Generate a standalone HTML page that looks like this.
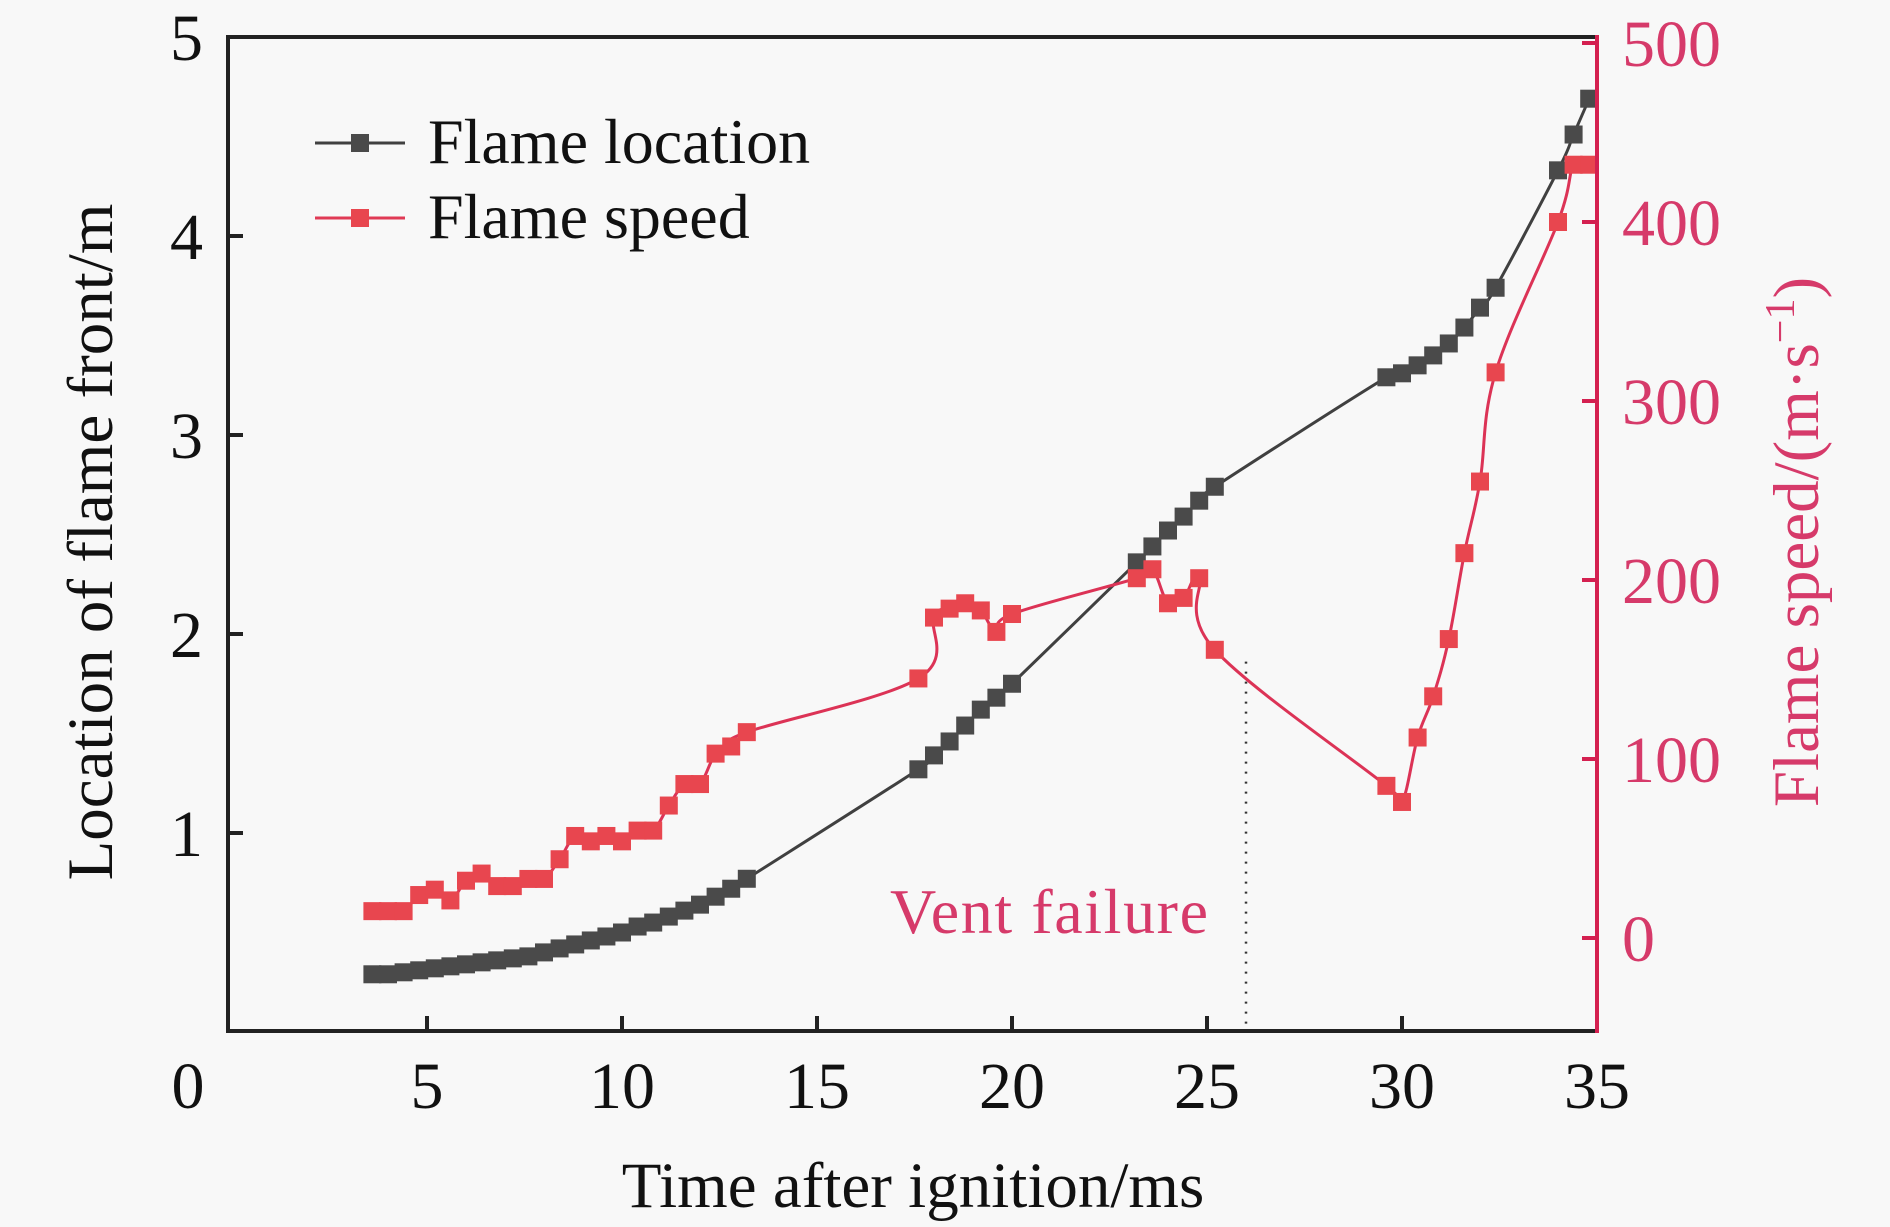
<!DOCTYPE html>
<html><head><meta charset="utf-8"><style>
html,body{margin:0;padding:0;background:#f8f8f8;}
svg{display:block;font-family:"Liberation Serif","DejaVu Serif",serif;}
</style></head><body>
<svg id="chart" width="1890" height="1227" viewBox="0 0 1890 1227">
<rect x="0" y="0" width="1890" height="1227" fill="#f8f8f8"/>
<g id="marks"></g>
<g id="axes"></g>
<g>
 <line x1="315" y1="143" x2="405" y2="143" stroke="#404040" stroke-width="3"/>
 <rect x="351" y="134" width="18" height="18" fill="#4a4a4a"/>
 <text x="428" y="163" font-size="64" fill="#111">Flame location</text>
 <line x1="315" y1="218" x2="405" y2="218" stroke="#e03a55" stroke-width="3"/>
 <rect x="351" y="209" width="18" height="18" fill="#e8464f"/>
 <text x="428" y="238" font-size="64" fill="#111">Flame speed</text>
</g>
<text x="890" y="933" font-size="64" fill="#d63a6a" textLength="318">Vent failure</text>
<text x="913" y="1207" font-size="65" fill="#111" text-anchor="middle">Time after ignition/ms</text>
<text transform="translate(112,542) rotate(-90)" font-size="65" fill="#111" text-anchor="middle">Location of flame front/m</text>
<text transform="translate(1818,542) rotate(-90)" font-size="65" fill="#d63a6a" text-anchor="middle">Flame speed/(m·s<tspan dy="-24" font-size="42">−1</tspan><tspan dy="24">)</tspan></text>
</svg>
<script>
const locTime = [3.6,4.0,4.4,4.8,5.2,5.6,6.0,6.4,6.8,7.2,7.6,8.0,8.4,8.8,9.2,9.6,10.0,10.4,10.8,11.2,11.6,12.0,12.4,12.8,13.2,17.6,18.0,18.4,18.8,19.2,19.6,20.0,23.2,23.6,24.0,24.4,24.8,25.2,29.6,30.0,30.4,30.8,31.2,31.6,32.0,32.4,34.0,34.4,34.8];
const locValues = [0.29,0.29,0.30,0.31,0.32,0.33,0.34,0.35,0.36,0.37,0.38,0.40,0.42,0.44,0.46,0.48,0.50,0.53,0.55,0.58,0.61,0.64,0.68,0.72,0.77,1.32,1.39,1.46,1.54,1.62,1.68,1.75,2.36,2.44,2.52,2.59,2.67,2.74,3.29,3.31,3.35,3.40,3.46,3.54,3.64,3.74,4.33,4.51,4.69];
const spdTime = [3.6,4.0,4.4,4.8,5.2,5.6,6.0,6.4,6.8,7.2,7.6,8.0,8.4,8.8,9.2,9.6,10.0,10.4,10.8,11.2,11.6,12.0,12.4,12.8,13.2,17.6,18.0,18.4,18.8,19.2,19.6,20.0,23.2,23.6,24.0,24.4,24.8,25.2,29.6,30.0,30.4,30.8,31.2,31.6,32.0,32.4,34.0,34.4,34.8];
const spdValues = [15,15,15,24,27,21,32,36,29,29,33,33,44,57,54,57,54,60,60,74,86,86,103,107,115,145,179,184,187,183,171,181,201,206,187,190,201,161,85,76,112,135,167,215,255,316,400,432,432];
const xTicks = [0,5,10,15,20,25,30,35];
const leftTicks = [1,2,3,4,5];
const rightTicks = [0,100,200,300,400,500];
const ventTime = 26.0;

const NS = "http://www.w3.org/2000/svg";
const X0=232, XS=39.0, PL=228, PR=1597, PT=37, PB=1031;
function xs(t){return X0+XS*t;}
function yl(v){return 1032-199*v;}
function yr(v){return 938-1.79*v;}
function mk(tag,attrs,parent){const e=document.createElementNS(NS,tag);for(const k in attrs)e.setAttribute(k,attrs[k]);parent.appendChild(e);return e;}
function splinePath(pts){
  let d="M"+pts[0][0]+","+pts[0][1];
  for(let i=0;i<pts.length-1;i++){
    const p0=pts[Math.max(0,i-1)],p1=pts[i],p2=pts[i+1],p3=pts[Math.min(pts.length-1,i+2)];
    const t=0.18;
    const c1=[p1[0]+(p2[0]-p0[0])*t,p1[1]+(p2[1]-p0[1])*t];
    const c2=[p2[0]-(p3[0]-p1[0])*t,p2[1]-(p3[1]-p1[1])*t];
    d+=" C"+c1[0]+","+c1[1]+" "+c2[0]+","+c2[1]+" "+p2[0]+","+p2[1];
  }
  return d;
}
const marksG=document.getElementById('marks');
const axesG=document.getElementById('axes');

const vl=mk('line',{x1:xs(ventTime),y1:yr(160)+10,x2:xs(ventTime),y2:PB,stroke:'#333','stroke-width':2.5,'stroke-dasharray':'2 8'},marksG);



const lp=locTime.map((t,i)=>[xs(t),yl(locValues[i])]);
const l1=mk('path',{d:splinePath(lp),fill:'none',stroke:'#404040','stroke-width':3},marksG);


lp.forEach(p=>{
  const r=mk('rect',{x:p[0]-9,y:p[1]-9,width:18,height:18,fill:'#4a4a4a'},marksG);
  
  
});
const sp=spdTime.map((t,i)=>[xs(t),yr(spdValues[i])]);
const l2=mk('path',{d:splinePath(sp),fill:'none',stroke:'#dc3356','stroke-width':3},marksG);


sp.forEach(p=>{
  const r=mk('rect',{x:p[0]-9,y:p[1]-9,width:18,height:18,fill:'#e8464f'},marksG);
  
  
});

const topBorder=mk('line',{x1:PL,y1:PT,x2:PR,y2:PT,stroke:'#222','stroke-width':4},axesG);


const leftAxis=mk('line',{x1:PL,y1:PT-2,x2:PL,y2:PB+2,stroke:'#222','stroke-width':4},axesG);


const xAxis=mk('line',{x1:PL,y1:PB,x2:PR,y2:PB,stroke:'#222','stroke-width':4},axesG);


const rightAxis=mk('line',{x1:PR,y1:PT-2,x2:PR,y2:PB+2,stroke:'#d42050','stroke-width':4},axesG);



xTicks.forEach(v=>{
  const x=xs(v);
  if(v>0&&v<35){
    const t=mk('line',{x1:x,y1:PB,x2:x,y2:PB-15,stroke:'#222','stroke-width':4},axesG);
    
    
  }
  const lx = v===0 ? 188 : x;
  const tx=mk('text',{x:lx,y:1108,'font-size':66,fill:'#111','text-anchor':'middle'},axesG);
  tx.textContent=v;
  
  
});
leftTicks.forEach(v=>{
  const y=yl(v);
  if(v<5){
    const t=mk('line',{x1:PL,y1:y,x2:PL+15,y2:y,stroke:'#222','stroke-width':4},axesG);
    
    
  }
  const tx=mk('text',{x:203,y:y+23,'font-size':66,fill:'#111','text-anchor':'end'},axesG);
  tx.textContent=v;
  
  
});
rightTicks.forEach(v=>{
  const y=yr(v);
  const t=mk('line',{x1:PR,y1:y,x2:PR-15,y2:y,stroke:'#d42050','stroke-width':4},axesG);
  
  
  const tx=mk('text',{x:1622,y:y+23,'font-size':66,fill:'#d63a6a'},axesG);
  tx.textContent=v;
  
  
});
</script>
</body></html>
